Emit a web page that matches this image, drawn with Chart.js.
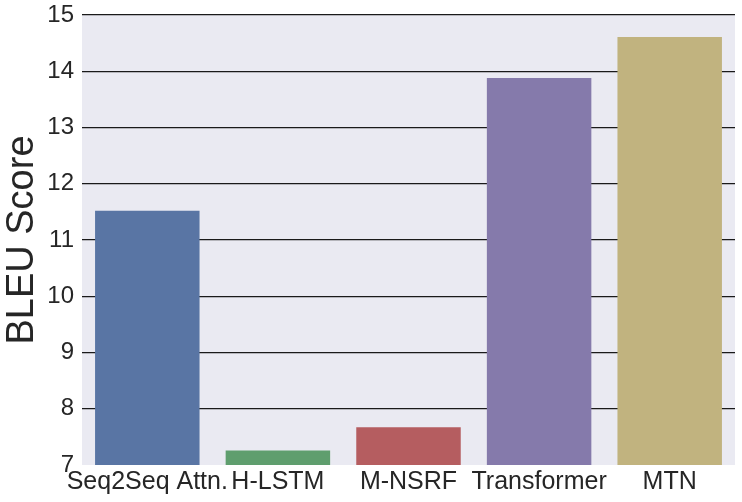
<!DOCTYPE html>
<html>
<head>
<meta charset="utf-8">
<script src="https://cdn.jsdelivr.net/npm/chart.js@4"></script>
<style>
  html, body { margin: 0; padding: 0; background: #ffffff; }
  #wrap { width: 742px; height: 502px; }
</style>
</head>
<body>
<div id="wrap"><canvas id="barChart" width="742" height="502"></canvas></div>
<script>
var models = ["Seq2Seq Attn.", "H-LSTM", "M-NSRF", "Transformer", "MTN"];
var bleu = [11.52, 7.26, 7.67, 13.88, 14.61];
var barColors = ["#5975a4", "#5f9e6e", "#b55d60", "#857aab", "#c1b37f"];
var yTicks = [7, 8, 9, 10, 11, 12, 13, 14, 15];

// seaborn-like grey panel behind the bars
var panelBg = {
  id: "panelBg",
  beforeDraw: function(chart) {
    var a = chart.chartArea;
    var ctx = chart.ctx;
    ctx.save();
    ctx.fillStyle = "#eaeaf2";
    ctx.fillRect(a.left, a.top, a.right - a.left, a.bottom - a.top);
    ctx.restore();
  }
};

Chart.defaults.font.family = "'Liberation Sans', Arial, sans-serif";
Chart.defaults.color = "#262626";

var barchart = new Chart("barChart", {
  type: "bar",
  data: {
    labels: models,
    datasets: [{
      label: "BLEU Score",
      backgroundColor: barColors,
      data: bleu,
      categoryPercentage: 1.0,
      barPercentage: 0.8
    }]
  },
  options: {
    responsive: false,
    animation: false,
    layout: { padding: { top: 15, right: 7, left: 0, bottom: 0 } },
    plugins: {
      legend: { display: false },
      tooltip: { enabled: false }
    },
    scales: {
      x: {
        grid: { display: false, drawTicks: false },
        border: { display: false },
        ticks: { font: { size: 25 }, padding: 2, maxRotation: 0, autoSkip: false },
        afterFit: function(s) { s.height = 37; s.paddingLeft = 0; s.paddingRight = 0; }
      },
      y: {
        min: 7,
        max: 15,
        afterBuildTicks: function(s) {
          s.ticks = yTicks.map(function(v) { return { value: v }; });
        },
        grid: {
          drawTicks: false,
          lineWidth: 1.3,
          color: function(c) { return c.tick && c.tick.value === 7 ? "rgba(0,0,0,0)" : "#1a1a1a"; }
        },
        border: { display: false },
        ticks: { font: { size: 24 }, padding: 8 },
        title: {
          display: true,
          text: "BLEU Score",
          font: { size: 38 },
          padding: { top: 0, bottom: 0 }
        },
        afterFit: function(s) { s.width = 82; s.paddingTop = 0; s.paddingBottom = 0; }
      }
    }
  },
  plugins: [panelBg]
});
</script>
</body>
</html>
